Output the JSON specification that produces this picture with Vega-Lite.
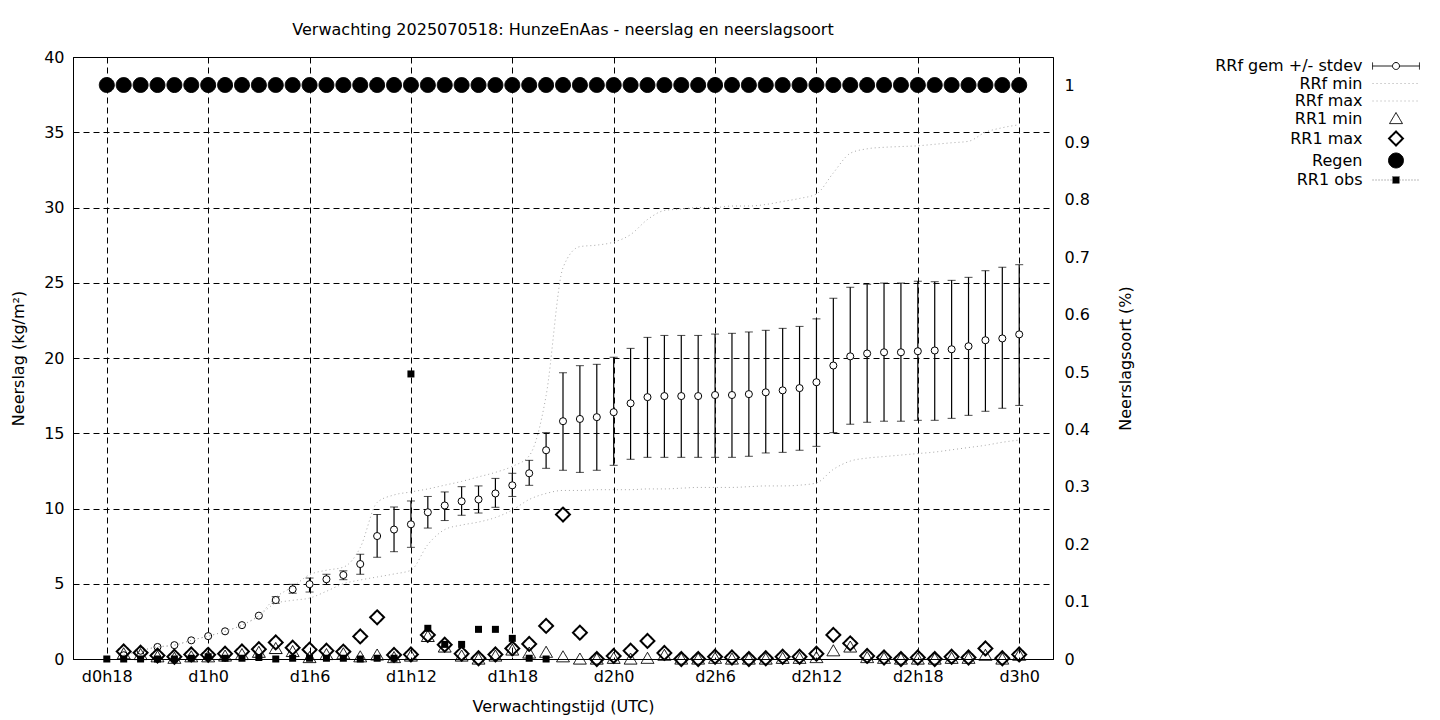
{
  "$schema": "https://vega.github.io/schema/vega-lite/v6.json",
  "width": 980,
  "height": 602,
  "autosize": {"type": "none"},
  "padding": {"left": 73, "top": 57, "right": 387, "bottom": 61},
  "background": "white",
  "title": {"text": "Verwachting 2025070518: HunzeEnAas - neerslag en neerslagsoort", "anchor": "middle", "frame": "group", "offset": 11, "fontSize": 16, "fontWeight": "normal", "font": "DejaVu Sans", "color": "black"},
  "config": {
    "font": "DejaVu Sans",
    "view": {"stroke": "black", "strokeWidth": 1},
    "axis": {"labelFont": "DejaVu Sans", "titleFont": "DejaVu Sans", "labelFontSize": 16, "titleFontSize": 16, "titleFontWeight": "normal", "labelColor": "black", "titleColor": "black", "domainColor": "black", "ticks": false, "tickSize": 0, "gridColor": "black", "gridDash": [6, 4], "gridOpacity": 1, "gridWidth": 1}
  },
  "datasets": {
    "gem": [
      {"h":19,"mean":0.25},{"h":20,"mean":0.55},{"h":21,"mean":0.8},{"h":22,"mean":0.92},{"h":23,"mean":1.24},{"h":24,"mean":1.52},{"h":25,"mean":1.84},{"h":26,"mean":2.25},{"h":27,"mean":2.88},{"h":28,"mean":3.92},{"h":29,"mean":4.63},{"h":30,"mean":4.97},{"h":31,"mean":5.3},{"h":32,"mean":5.58},{"h":33,"mean":6.31},{"h":34,"mean":8.17},{"h":35,"mean":8.6},{"h":36,"mean":8.95},{"h":37,"mean":9.75},{"h":38,"mean":10.2},{"h":39,"mean":10.48},{"h":40,"mean":10.6},{"h":41,"mean":11.0},{"h":42,"mean":11.54},{"h":43,"mean":12.34},{"h":44,"mean":13.87},{"h":45,"mean":15.8},{"h":46,"mean":15.95},{"h":47,"mean":16.07},{"h":48,"mean":16.4},{"h":49,"mean":16.99},{"h":50,"mean":17.4},{"h":51,"mean":17.47},{"h":52,"mean":17.47},{"h":53,"mean":17.47},{"h":54,"mean":17.54},{"h":55,"mean":17.54},{"h":56,"mean":17.6},{"h":57,"mean":17.72},{"h":58,"mean":17.85},{"h":59,"mean":18.0},{"h":60,"mean":18.39},{"h":61,"mean":19.5},{"h":62,"mean":20.11},{"h":63,"mean":20.3},{"h":64,"mean":20.38},{"h":65,"mean":20.38},{"h":66,"mean":20.45},{"h":67,"mean":20.5},{"h":68,"mean":20.58},{"h":69,"mean":20.78},{"h":70,"mean":21.18},{"h":71,"mean":21.3},{"h":72,"mean":21.57}
    ],
    "bars": [
      {"h":28,"lo":3.7,"hi":4.14},{"h":29,"lo":4.37,"hi":4.96},{"h":30,"lo":4.45,"hi":5.38},{"h":31,"lo":4.95,"hi":5.63},{"h":32,"lo":5.27,"hi":5.86},{"h":33,"lo":5.63,"hi":6.96},{"h":34,"lo":6.76,"hi":9.6},{"h":35,"lo":7.13,"hi":10.1},{"h":36,"lo":7.42,"hi":10.5},{"h":37,"lo":8.7,"hi":10.8},{"h":38,"lo":9.2,"hi":11.1},{"h":39,"lo":9.55,"hi":11.45},{"h":40,"lo":9.7,"hi":11.5},{"h":41,"lo":10.08,"hi":12.0},{"h":42,"lo":10.8,"hi":12.34},{"h":43,"lo":11.54,"hi":13.2},{"h":44,"lo":12.67,"hi":15.04},{"h":45,"lo":12.54,"hi":19.02},{"h":46,"lo":12.4,"hi":19.49},{"h":47,"lo":12.54,"hi":19.58},{"h":48,"lo":12.87,"hi":20.05},{"h":49,"lo":13.27,"hi":20.64},{"h":50,"lo":13.4,"hi":21.37},{"h":51,"lo":13.4,"hi":21.5},{"h":52,"lo":13.4,"hi":21.5},{"h":53,"lo":13.4,"hi":21.5},{"h":54,"lo":13.4,"hi":21.59},{"h":55,"lo":13.4,"hi":21.64},{"h":56,"lo":13.47,"hi":21.73},{"h":57,"lo":13.69,"hi":21.84},{"h":58,"lo":13.73,"hi":21.97},{"h":59,"lo":13.87,"hi":22.1},{"h":60,"lo":14.13,"hi":22.6},{"h":61,"lo":15.04,"hi":23.97},{"h":62,"lo":15.6,"hi":24.7},{"h":63,"lo":15.73,"hi":24.9},{"h":64,"lo":15.8,"hi":24.98},{"h":65,"lo":15.8,"hi":24.98},{"h":66,"lo":15.86,"hi":25.1},{"h":67,"lo":15.86,"hi":25.07},{"h":68,"lo":15.99,"hi":25.16},{"h":69,"lo":16.19,"hi":25.36},{"h":70,"lo":16.46,"hi":25.8},{"h":71,"lo":16.66,"hi":26.03},{"h":72,"lo":16.85,"hi":26.2}
    ],
    "minmax": [
      {"h":19,"min":0.25,"max":0.25},{"h":20,"min":0.55,"max":0.55},{"h":21,"min":0.8,"max":0.8},{"h":22,"min":0.92,"max":0.92},{"h":23,"min":1.24,"max":1.24},{"h":24,"min":1.52,"max":1.52},{"h":25,"min":1.84,"max":1.84},{"h":26,"min":2.25,"max":2.25},{"h":27,"min":2.88,"max":2.88},{"h":28,"min":3.7,"max":4.1},{"h":29,"min":3.9,"max":4.8},{"h":30,"min":4.05,"max":5.6},{"h":31,"min":4.5,"max":5.9},{"h":32,"min":5.0,"max":6.1},{"h":33,"min":5.25,"max":7.4},{"h":34,"min":5.45,"max":10.4},{"h":35,"min":5.65,"max":10.9},{"h":36,"min":5.9,"max":11.1},{"h":37,"min":7.6,"max":11.3},{"h":38,"min":8.6,"max":11.55},{"h":39,"min":8.9,"max":11.8},{"h":40,"min":9.1,"max":12.1},{"h":41,"min":9.4,"max":12.4},{"h":42,"min":9.9,"max":12.8},{"h":43,"min":10.6,"max":13.5},{"h":44,"min":11.0,"max":17.5},{"h":45,"min":11.2,"max":26.0},{"h":46,"min":11.2,"max":27.4},{"h":47,"min":11.25,"max":27.5},{"h":48,"min":11.25,"max":27.7},{"h":49,"min":11.25,"max":28.2},{"h":50,"min":11.3,"max":29.2},{"h":51,"min":11.3,"max":29.8},{"h":52,"min":11.35,"max":29.9},{"h":53,"min":11.4,"max":30.0},{"h":54,"min":11.4,"max":30.0},{"h":55,"min":11.4,"max":30.1},{"h":56,"min":11.45,"max":30.1},{"h":57,"min":11.5,"max":30.2},{"h":58,"min":11.5,"max":30.4},{"h":59,"min":11.55,"max":30.6},{"h":60,"min":11.7,"max":30.9},{"h":61,"min":12.6,"max":32.3},{"h":62,"min":13.15,"max":33.6},{"h":63,"min":13.35,"max":33.9},{"h":64,"min":13.45,"max":34.0},{"h":65,"min":13.55,"max":34.05},{"h":66,"min":13.65,"max":34.1},{"h":67,"min":13.75,"max":34.2},{"h":68,"min":13.9,"max":34.3},{"h":69,"min":14.05,"max":34.4},{"h":70,"min":14.2,"max":35.0},{"h":71,"min":14.4,"max":35.3},{"h":72,"min":14.55,"max":35.5}
    ],
    "rr1": [
      {"h":19,"series":"RR1 min","v":0.35},{"h":20,"series":"RR1 min","v":0.3},{"h":21,"series":"RR1 min","v":0.15},{"h":22,"series":"RR1 min","v":0.05},{"h":23,"series":"RR1 min","v":0.15},{"h":24,"series":"RR1 min","v":0.15},{"h":25,"series":"RR1 min","v":0.2},{"h":26,"series":"RR1 min","v":0.3},{"h":27,"series":"RR1 min","v":0.45},{"h":28,"series":"RR1 min","v":0.7},{"h":29,"series":"RR1 min","v":0.5},{"h":30,"series":"RR1 min","v":0.1},{"h":31,"series":"RR1 min","v":0.3},{"h":32,"series":"RR1 min","v":0.35},{"h":33,"series":"RR1 min","v":0.15},{"h":34,"series":"RR1 min","v":0.27},{"h":35,"series":"RR1 min","v":0.1},{"h":36,"series":"RR1 min","v":0.2},{"h":37,"series":"RR1 min","v":1.5},{"h":38,"series":"RR1 min","v":0.8},{"h":39,"series":"RR1 min","v":0.2},{"h":40,"series":"RR1 min","v":0.0},{"h":41,"series":"RR1 min","v":0.2},{"h":42,"series":"RR1 min","v":0.6},{"h":43,"series":"RR1 min","v":0.4},{"h":44,"series":"RR1 min","v":0.45},{"h":45,"series":"RR1 min","v":0.15},{"h":46,"series":"RR1 min","v":0.0},{"h":47,"series":"RR1 min","v":0.0},{"h":48,"series":"RR1 min","v":0.05},{"h":49,"series":"RR1 min","v":0.0},{"h":50,"series":"RR1 min","v":0.05},{"h":51,"series":"RR1 min","v":0.25},{"h":52,"series":"RR1 min","v":0.0},{"h":53,"series":"RR1 min","v":0.0},{"h":54,"series":"RR1 min","v":0.05},{"h":55,"series":"RR1 min","v":0.0},{"h":56,"series":"RR1 min","v":0.0},{"h":57,"series":"RR1 min","v":0.0},{"h":58,"series":"RR1 min","v":0.05},{"h":59,"series":"RR1 min","v":0.05},{"h":60,"series":"RR1 min","v":0.1},{"h":61,"series":"RR1 min","v":0.55},{"h":62,"series":"RR1 min","v":0.8},{"h":63,"series":"RR1 min","v":0.1},{"h":64,"series":"RR1 min","v":0.05},{"h":65,"series":"RR1 min","v":0.0},{"h":66,"series":"RR1 min","v":0.0},{"h":67,"series":"RR1 min","v":0.0},{"h":68,"series":"RR1 min","v":0.05},{"h":69,"series":"RR1 min","v":0.05},{"h":70,"series":"RR1 min","v":0.25},{"h":71,"series":"RR1 min","v":0.0},{"h":72,"series":"RR1 min","v":0.25},
      {"h":19,"series":"RR1 max","v":0.5},{"h":20,"series":"RR1 max","v":0.42},{"h":21,"series":"RR1 max","v":0.23},{"h":22,"series":"RR1 max","v":0.15},{"h":23,"series":"RR1 max","v":0.3},{"h":24,"series":"RR1 max","v":0.28},{"h":25,"series":"RR1 max","v":0.35},{"h":26,"series":"RR1 max","v":0.5},{"h":27,"series":"RR1 max","v":0.65},{"h":28,"series":"RR1 max","v":1.1},{"h":29,"series":"RR1 max","v":0.75},{"h":30,"series":"RR1 max","v":0.62},{"h":31,"series":"RR1 max","v":0.55},{"h":32,"series":"RR1 max","v":0.49},{"h":33,"series":"RR1 max","v":1.5},{"h":34,"series":"RR1 max","v":2.77},{"h":35,"series":"RR1 max","v":0.27},{"h":36,"series":"RR1 max","v":0.3},{"h":37,"series":"RR1 max","v":1.6},{"h":38,"series":"RR1 max","v":0.95},{"h":39,"series":"RR1 max","v":0.35},{"h":40,"series":"RR1 max","v":0.05},{"h":41,"series":"RR1 max","v":0.3},{"h":42,"series":"RR1 max","v":0.7},{"h":43,"series":"RR1 max","v":1.0},{"h":44,"series":"RR1 max","v":2.2},{"h":45,"series":"RR1 max","v":9.6},{"h":46,"series":"RR1 max","v":1.75},{"h":47,"series":"RR1 max","v":0.0},{"h":48,"series":"RR1 max","v":0.2},{"h":49,"series":"RR1 max","v":0.55},{"h":50,"series":"RR1 max","v":1.2},{"h":51,"series":"RR1 max","v":0.4},{"h":52,"series":"RR1 max","v":0.0},{"h":53,"series":"RR1 max","v":0.0},{"h":54,"series":"RR1 max","v":0.15},{"h":55,"series":"RR1 max","v":0.1},{"h":56,"series":"RR1 max","v":0.0},{"h":57,"series":"RR1 max","v":0.05},{"h":58,"series":"RR1 max","v":0.15},{"h":59,"series":"RR1 max","v":0.15},{"h":60,"series":"RR1 max","v":0.35},{"h":61,"series":"RR1 max","v":1.6},{"h":62,"series":"RR1 max","v":1.04},{"h":63,"series":"RR1 max","v":0.2},{"h":64,"series":"RR1 max","v":0.1},{"h":65,"series":"RR1 max","v":0.0},{"h":66,"series":"RR1 max","v":0.1},{"h":67,"series":"RR1 max","v":0.0},{"h":68,"series":"RR1 max","v":0.15},{"h":69,"series":"RR1 max","v":0.1},{"h":70,"series":"RR1 max","v":0.7},{"h":71,"series":"RR1 max","v":0.05},{"h":72,"series":"RR1 max","v":0.3}
    ],
    "obs": [
      {"h":18,"v":0},{"h":19,"v":0},{"h":20,"v":0},{"h":21,"v":0},{"h":22,"v":0},{"h":23,"v":0.05},{"h":24,"v":0.15},{"h":25,"v":0.05},{"h":26,"v":0.05},{"h":27,"v":0.1},{"h":28,"v":0},{"h":29,"v":0.05},{"h":30,"v":0.05},{"h":31,"v":0.05},{"h":32,"v":0.05},{"h":33,"v":0},{"h":34,"v":0.05},{"h":35,"v":0.05},{"h":36,"v":18.94},{"h":37,"v":2.04},{"h":38,"v":0.97},{"h":39,"v":0.97},{"h":40,"v":1.97},{"h":41,"v":1.97},{"h":42,"v":1.37},{"h":43,"v":0.05},{"h":44,"v":0}
    ],
    "regen": [
      {"h":18,"series":"Regen","v":1},{"h":19,"series":"Regen","v":1},{"h":20,"series":"Regen","v":1},{"h":21,"series":"Regen","v":1},{"h":22,"series":"Regen","v":1},{"h":23,"series":"Regen","v":1},{"h":24,"series":"Regen","v":1},{"h":25,"series":"Regen","v":1},{"h":26,"series":"Regen","v":1},{"h":27,"series":"Regen","v":1},{"h":28,"series":"Regen","v":1},{"h":29,"series":"Regen","v":1},{"h":30,"series":"Regen","v":1},{"h":31,"series":"Regen","v":1},{"h":32,"series":"Regen","v":1},{"h":33,"series":"Regen","v":1},{"h":34,"series":"Regen","v":1},{"h":35,"series":"Regen","v":1},{"h":36,"series":"Regen","v":1},{"h":37,"series":"Regen","v":1},{"h":38,"series":"Regen","v":1},{"h":39,"series":"Regen","v":1},{"h":40,"series":"Regen","v":1},{"h":41,"series":"Regen","v":1},{"h":42,"series":"Regen","v":1},{"h":43,"series":"Regen","v":1},{"h":44,"series":"Regen","v":1},{"h":45,"series":"Regen","v":1},{"h":46,"series":"Regen","v":1},{"h":47,"series":"Regen","v":1},{"h":48,"series":"Regen","v":1},{"h":49,"series":"Regen","v":1},{"h":50,"series":"Regen","v":1},{"h":51,"series":"Regen","v":1},{"h":52,"series":"Regen","v":1},{"h":53,"series":"Regen","v":1},{"h":54,"series":"Regen","v":1},{"h":55,"series":"Regen","v":1},{"h":56,"series":"Regen","v":1},{"h":57,"series":"Regen","v":1},{"h":58,"series":"Regen","v":1},{"h":59,"series":"Regen","v":1},{"h":60,"series":"Regen","v":1},{"h":61,"series":"Regen","v":1},{"h":62,"series":"Regen","v":1},{"h":63,"series":"Regen","v":1},{"h":64,"series":"Regen","v":1},{"h":65,"series":"Regen","v":1},{"h":66,"series":"Regen","v":1},{"h":67,"series":"Regen","v":1},{"h":68,"series":"Regen","v":1},{"h":69,"series":"Regen","v":1},{"h":70,"series":"Regen","v":1},{"h":71,"series":"Regen","v":1},{"h":72,"series":"Regen","v":1}
    ]
  },
  "encoding": {
    "x": {"field": "h", "type": "quantitative", "scale": {"domain": [16, 74], "nice": false, "zero": false},
      "axis": {"values": [18, 24, 30, 36, 42, 48, 54, 60, 66, 72], "labelExpr": "'d' + floor(datum.value / 24) + 'h' + (datum.value % 24)", "grid": true, "title": "Verwachtingstijd (UTC)", "labelPadding": 9, "titlePadding": 14, "labelFlush": false}}
  },
  "layer": [
    {
      "layer": [
        {
          "data": {"name": "bars"},
          "mark": {"type": "rule", "color": "black", "strokeWidth": 1.2},
          "encoding": {
            "y": {"field": "lo", "type": "quantitative", "scale": {"domain": [0, 40], "nice": false, "zero": false},
              "axis": {"values": [0, 5, 10, 15, 20, 25, 30, 35, 40], "grid": true, "title": "Neerslag (kg/m²)", "labelPadding": 9, "titlePadding": 17, "orient": "left"}},
            "y2": {"field": "hi"}
          }
        },
        {
          "data": {"name": "bars"},
          "mark": {"type": "tick", "orient": "horizontal", "color": "black", "size": 8, "thickness": 1},
          "encoding": {"y": {"field": "lo", "type": "quantitative", "scale": {"domain": [0, 40], "nice": false, "zero": false}}}
        },
        {
          "data": {"name": "bars"},
          "mark": {"type": "tick", "orient": "horizontal", "color": "black", "size": 8, "thickness": 1},
          "encoding": {"y": {"field": "hi", "type": "quantitative", "scale": {"domain": [0, 40], "nice": false, "zero": false}}}
        },
        {
          "data": {"name": "gem"},
          "mark": {"type": "point", "shape": "circle", "size": 50, "fill": "white", "stroke": "black", "strokeWidth": 1, "opacity": 1, "fillOpacity": 1},
          "encoding": {"y": {"field": "mean", "type": "quantitative", "scale": {"domain": [0, 40], "nice": false, "zero": false}}}
        },
        {
          "data": {"name": "minmax"},
          "mark": {"type": "line", "stroke": "#a8a8a8", "strokeDash": [1, 3], "strokeWidth": 1, "interpolate": "monotone"},
          "encoding": {"y": {"field": "min", "type": "quantitative", "scale": {"domain": [0, 40], "nice": false, "zero": false}}}
        },
        {
          "data": {"name": "minmax"},
          "mark": {"type": "line", "stroke": "#a8a8a8", "strokeDash": [1, 3], "strokeWidth": 1, "interpolate": "monotone"},
          "encoding": {"y": {"field": "max", "type": "quantitative", "scale": {"domain": [0, 40], "nice": false, "zero": false}}}
        },
        {
          "data": {"name": "rr1"},
          "mark": {"type": "point", "size": 289, "opacity": 1},
          "encoding": {
            "y": {"field": "v", "type": "quantitative", "scale": {"domain": [0, 40], "nice": false, "zero": false}},
            "shape": {"field": "series", "type": "nominal",
              "scale": {"domain": ["RRf gem +/- stdev", "RRf min", "RRf max", "RR1 min", "RR1 max", "Regen", "RR1 obs"],
                "range": ["M-2.76,-0.41V0.41M-2.76,0H-0.41M0.41,0H2.76M2.76,-0.41V0.41M0.41,0A0.41,0.41,0,1,1,-0.41,0A0.41,0.41,0,1,1,0.41,0Z", "M-2.76,0H2.76", "M-2.76,0H2.76", "M0,-0.7L0.76,0.6L-0.76,0.6Z", "M0,-0.82L0.82,0L0,0.82L-0.82,0Z", "M0.88,0A0.88,0.88,0,1,1,-0.88,0A0.88,0.88,0,1,1,0.88,0Z", "M-2.76,0H-0.41M0.41,0H2.76M-0.41,-0.41H0.41V0.41H-0.41Z"]},
              "legend": {"title": null, "orient": "none", "legendX": 1313.5, "legendY": 0, "labelAlign": "right", "labelOffset": -43, "labelFontSize": 16, "labelFont": "DejaVu Sans", "labelColor": "black", "symbolSize": 289, "rowPadding": 0.5, "padding": 0, "labelLimit": 400}},
            "fill": {"field": "series", "type": "nominal", "scale": {"domain": ["RRf gem +/- stdev", "RRf min", "RRf max", "RR1 min", "RR1 max", "Regen", "RR1 obs"], "range": ["white", "transparent", "transparent", "transparent", "transparent", "black", "black"]}},
            "stroke": {"field": "series", "type": "nominal", "scale": {"domain": ["RRf gem +/- stdev", "RRf min", "RRf max", "RR1 min", "RR1 max", "Regen", "RR1 obs"], "range": ["black", "#a8a8a8", "#a8a8a8", "black", "black", "black", "#777777"]}},
            "strokeDash": {"field": "series", "type": "nominal", "scale": {"domain": ["RRf gem +/- stdev", "RRf min", "RRf max", "RR1 min", "RR1 max", "Regen", "RR1 obs"], "range": [[1, 0], [1, 3], [1, 3], [1, 0], [1, 0], [1, 0], [1, 2]]}},
            "strokeWidth": {"field": "series", "type": "nominal", "scale": {"type": "ordinal", "domain": ["RRf gem +/- stdev", "RRf min", "RRf max", "RR1 min", "RR1 max", "Regen", "RR1 obs"], "range": [1, 1, 1, 1, 2, 1, 1]}}
          }
        },
        {
          "data": {"name": "obs"},
          "mark": {"type": "point", "shape": "square", "size": 49, "fill": "black", "stroke": null, "strokeWidth": 0, "opacity": 1, "fillOpacity": 1},
          "encoding": {"y": {"field": "v", "type": "quantitative", "scale": {"domain": [0, 40], "nice": false, "zero": false}}}
        }
      ]
    },
    {
      "data": {"name": "regen"},
      "mark": {"type": "point", "size": 289, "opacity": 1},
      "encoding": {
        "y": {"field": "v", "type": "quantitative", "scale": {"domain": [0, 1.0488], "nice": false, "zero": false},
          "axis": {"orient": "right", "values": [0, 0.1, 0.2, 0.3, 0.4, 0.5, 0.6, 0.7, 0.8, 0.9, 1], "format": "~g", "grid": false, "title": "Neerslagsoort (%)", "titleAngle": 270, "labelPadding": 11, "titlePadding": 44}},
        "shape": {"field": "series", "type": "nominal",
          "scale": {"domain": ["RRf gem +/- stdev", "RRf min", "RRf max", "RR1 min", "RR1 max", "Regen", "RR1 obs"],
            "range": ["M-2.76,-0.41V0.41M-2.76,0H-0.41M0.41,0H2.76M2.76,-0.41V0.41M0.41,0A0.41,0.41,0,1,1,-0.41,0A0.41,0.41,0,1,1,0.41,0Z", "M-2.76,0H2.76", "M-2.76,0H2.76", "M0,-0.7L0.76,0.6L-0.76,0.6Z", "M0,-0.82L0.82,0L0,0.82L-0.82,0Z", "M0.88,0A0.88,0.88,0,1,1,-0.88,0A0.88,0.88,0,1,1,0.88,0Z", "M-2.76,0H-0.41M0.41,0H2.76M-0.41,-0.41H0.41V0.41H-0.41Z"]},
          "legend": {"title": null, "orient": "none", "legendX": 1313.5, "legendY": 0, "labelAlign": "right", "labelOffset": -43, "labelFontSize": 16, "labelFont": "DejaVu Sans", "labelColor": "black", "symbolSize": 289, "rowPadding": 0.5, "padding": 0, "labelLimit": 400}},
        "fill": {"field": "series", "type": "nominal", "scale": {"domain": ["RRf gem +/- stdev", "RRf min", "RRf max", "RR1 min", "RR1 max", "Regen", "RR1 obs"], "range": ["white", "transparent", "transparent", "transparent", "transparent", "black", "black"]}},
        "stroke": {"field": "series", "type": "nominal", "scale": {"domain": ["RRf gem +/- stdev", "RRf min", "RRf max", "RR1 min", "RR1 max", "Regen", "RR1 obs"], "range": ["black", "#a8a8a8", "#a8a8a8", "black", "black", "black", "#777777"]}},
        "strokeDash": {"field": "series", "type": "nominal", "scale": {"domain": ["RRf gem +/- stdev", "RRf min", "RRf max", "RR1 min", "RR1 max", "Regen", "RR1 obs"], "range": [[1, 0], [1, 3], [1, 3], [1, 0], [1, 0], [1, 0], [1, 2]]}},
        "strokeWidth": {"field": "series", "type": "nominal", "scale": {"type": "ordinal", "domain": ["RRf gem +/- stdev", "RRf min", "RRf max", "RR1 min", "RR1 max", "Regen", "RR1 obs"], "range": [1, 1, 1, 1, 2, 1, 1]}}
      }
    }
  ],
  "resolve": {"scale": {"y": "independent"}, "axis": {"y": "independent"}}
}
